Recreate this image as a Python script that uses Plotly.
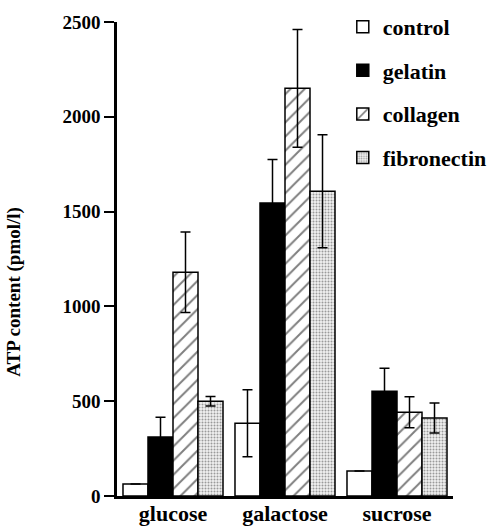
import plotly.graph_objects as go

categories = ["glucose", "galactose", "sucrose"]
series_names = ["control", "gelatin", "collagen", "fibronectin"]
control = [63, 384, 132]
control_err = [0, 177, 0]
gelatin = [311, 1545, 553]
gelatin_err = [105, 230, 121]
collagen = [1180, 2150, 442]
collagen_err = [212, 310, 82]
fibronectin = [500, 1607, 411]
fibronectin_err = [25, 298, 79]
y_ticks = [0, 500, 1000, 1500, 2000, 2500]

values = [control, gelatin, collagen, fibronectin]
errors = [control_err, gelatin_err, collagen_err, fibronectin_err]
styles = [
    dict(color="white", pattern=None),
    dict(color="black", pattern=None),
    dict(color="white", pattern=dict(shape="/", fgcolor="black", bgcolor="white", size=10, solidity=0.2)),
    dict(color="white", pattern=dict(shape=".", fgcolor="#444444", bgcolor="#f0f0f0", size=3, solidity=0.35)),
]

FONT = "Liberation Serif"
fig = go.Figure()
for name, v, e, st in zip(series_names, values, errors, styles):
    marker = dict(color=st["color"], line=dict(color="black", width=1.5))
    if st["pattern"] is not None:
        marker["pattern"] = st["pattern"]
    fig.add_trace(go.Bar(
        x=categories, y=v, name=name, legendgroup=name,
        marker=marker,
        error_y=dict(type="data", array=e, visible=True, color="black", thickness=1.5, width=5),
    ))

fig.update_layout(
    width=491, height=526,
    margin=dict(l=117, r=38, t=22, b=30, autoexpand=False),
    paper_bgcolor="white", plot_bgcolor="white",
    barmode="group", bargap=0.107, bargroupgap=0,
    font=dict(family=FONT, size=18, color="black"),
    showlegend=True,
    legend=dict(x=0.672, y=1.034, xanchor="left", yanchor="top",
                font=dict(family=FONT, size=22, color="black", weight="bold"),
                tracegroupgap=12, bgcolor="rgba(0,0,0,0)"),
    xaxis=dict(showline=True, linecolor="black", linewidth=2.5, ticks="",
               tickfont=dict(family=FONT, size=22, weight="bold"), showgrid=False,
               range=[-0.5, 2.5], ticklabelstandoff=-4, automargin=False),
    yaxis=dict(range=[0, 2500], tickvals=y_ticks,
               showline=True, linecolor="black", linewidth=2.5, ticks="outside",
               ticklen=10, tickwidth=2, tickcolor="black", showgrid=False, zeroline=False,
               automargin=False,
               tickfont=dict(family=FONT, size=19, weight="bold")),
    annotations=[dict(text="ATP content (pmol/l)", textangle=-90, x=-0.305, xref="paper",
                      xanchor="center", yanchor="middle",
                      y=0.43, yref="paper", showarrow=False,
                      font=dict(family=FONT, size=19, weight="bold"))],
)
fig.write_html("out.html")
